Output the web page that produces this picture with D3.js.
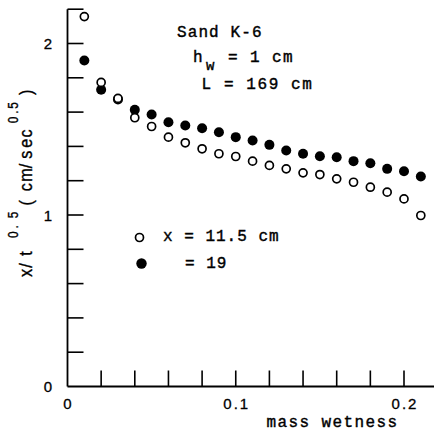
<!DOCTYPE html>
<html>
<head>
<meta charset="utf-8">
<script src="https://cdn.jsdelivr.net/npm/d3@7"></script>
<style>
  html, body { margin: 0; padding: 0; background: #fff; }
  svg { display: block; }
</style>
</head>
<body>
<svg id="chart" width="434" height="434"></svg>
<script>
// ---- data ----
const wetness = [0.01,0.02,0.03,0.04,0.05,0.06,0.07,0.08,0.09,0.10,0.11,0.12,0.13,0.14,0.15,0.16,0.17,0.18,0.19,0.20,0.21];
const x115 = [2.157,1.773,1.68,1.567,1.516,1.454,1.421,1.386,1.357,1.341,1.314,1.289,1.269,1.246,1.236,1.211,1.191,1.162,1.133,1.094,0.997];
const x19  = [1.901,1.730,1.673,1.613,1.586,1.541,1.522,1.506,1.483,1.454,1.434,1.409,1.376,1.357,1.343,1.337,1.314,1.302,1.269,1.255,1.224];
const xTicks = [0.02,0.04,0.06,0.08,0.10,0.12,0.14,0.16,0.18,0.20];
const xTickLabels = [[0,"0"],[0.1,"0.1"],[0.2,"0.2"]];
const yTicks = [0.2,0.4,0.6,0.8,1.0,1.2,1.4,1.6,1.8,2.0,2.2];
const yTickLabels = [[0,"0"],[1,"1"],[2,"2"]];

const svg = d3.select("#chart");
const x = d3.scaleLinear().domain([0, 0.2]).range([67.5, 404]);
const y = d3.scaleLinear().domain([0, 2]).range([386.5, 43.5]);
const xMax = 0.218;
const yMax = 2.2;

const mono = "'Liberation Mono', 'DejaVu Sans Mono', monospace";
const sans = "'Liberation Sans', Arial, sans-serif";

// axes lines
const ax = svg.append("g").attr("stroke", "#000").attr("fill", "none");
ax.append("line").attr("x1", x(0)).attr("x2", x(xMax)).attr("y1", y(0)).attr("y2", y(0)).attr("stroke-width", 1.8);
ax.append("line").attr("x1", x(0)).attr("x2", x(0)).attr("y1", y(0)).attr("y2", y(yMax)).attr("stroke-width", 1.8);

// x ticks (inward, up)
ax.selectAll("line.xt").data(xTicks).join("line").attr("class","xt")
  .attr("x1", d => x(d)).attr("x2", d => x(d))
  .attr("y1", y(0)).attr("y2", y(0) - 16).attr("stroke-width", 1.6);
// y ticks (inward, right)
ax.selectAll("line.yt").data(yTicks).join("line").attr("class","yt")
  .attr("y1", d => y(d)).attr("y2", d => y(d))
  .attr("x1", x(0)).attr("x2", x(0) + 16).attr("stroke-width", 1.6);

// tick labels
svg.selectAll("text.xl").data(xTickLabels).join("text").attr("class","xl")
  .attr("x", d => x(d[0]) + 1).attr("y", 409)
  .attr("text-anchor", "middle").attr("font-family", sans).attr("font-size", 15)
  .attr("letter-spacing", 2).attr("stroke", "#000").attr("stroke-width", 0.3)
  .text(d => d[1]);
svg.selectAll("text.yl").data(yTickLabels).join("text").attr("class","yl")
  .attr("x", 48).attr("y", d => y(d[0]) + 5.5)
  .attr("text-anchor", "middle").attr("font-family", sans).attr("font-size", 15)
  .attr("stroke", "#000").attr("stroke-width", 0.3)
  .text(d => d[1]);

// x axis title
svg.append("text").attr("x", 266.5).attr("y", 426.5)
  .attr("font-family", mono).attr("font-size", 16).attr("letter-spacing", 1.4)
  .attr("stroke", "#000").attr("stroke-width", 0.4)
  .text("mass wetness");

// y axis title (rotated), condensed sans
const yt = svg.append("g").attr("transform", "translate(32,277) rotate(-90) scale(0.85,1)")
  .attr("font-family", sans).attr("fill", "#000").attr("stroke", "#000").attr("stroke-width", 0.35);
const ytPieces = [
  ["x", 0, 0, 19], ["/", 11, 0, 19], ["t", 25, 0, 19],
  ["0", 46, -14.5, 14], [".", 57, -14.5, 14], ["5", 69, -14.5, 14],
  ["(", 84, 0, 19],
  ["c", 101, 0, 19], ["m", 112, 0, 19], ["/", 128, 0, 19], ["s", 139, 0, 19], ["e", 152, 0, 19], ["c", 164, 0, 19],
  ["0", 181, -14.5, 14], [".", 192, -14.5, 14], ["5", 198, -14.5, 14],
  [")", 214, 0, 19]
];
yt.selectAll("text").data(ytPieces).join("text")
  .attr("x", d => d[1]).attr("y", d => d[2]).attr("font-size", d => d[3]).text(d => d[0]);

// points
const pts115 = wetness.map((w, i) => [w, x115[i]]);
const pts19 = wetness.map((w, i) => [w, x19[i]]);
svg.selectAll("circle.f").data(pts19).join("circle").attr("class","f")
  .attr("cx", d => x(d[0])).attr("cy", d => y(d[1])).attr("r", 5).attr("fill", "#000");
svg.selectAll("circle.o").data(pts115).join("circle").attr("class","o")
  .attr("cx", d => x(d[0])).attr("cy", d => y(d[1])).attr("r", 4)
  .attr("fill", "#fff").attr("stroke", "#000").attr("stroke-width", 1.7);

// annotation
const ann = svg.append("g").attr("font-family", mono).attr("font-size", 16).attr("fill", "#000")
  .attr("stroke", "#000").attr("stroke-width", 0.4)
  .style("white-space", "pre");
ann.append("text").attr("x", 177).attr("y", 37).attr("letter-spacing", 1.1).text("Sand K-6");
ann.append("text").attr("x", 193).attr("y", 62).text("h");
ann.append("text").attr("x", 206).attr("y", 70).attr("font-size", 14).text("w");
ann.append("text").attr("x", 228).attr("y", 62).attr("letter-spacing", 1.4).text("= 1 cm");
ann.append("text").attr("x", 201.5).attr("y", 89).attr("letter-spacing", 1.6).text("L = 169 cm");

// legend
svg.append("circle").attr("cx", 139.5).attr("cy", 237.5).attr("r", 4)
  .attr("fill", "#fff").attr("stroke", "#000").attr("stroke-width", 1.7);
svg.append("circle").attr("cx", 141.5).attr("cy", 263.5).attr("r", 5.2).attr("fill", "#000");
ann.append("text").attr("x", 163).attr("y", 241).attr("letter-spacing", 1).text("x = 11.5 cm");
ann.append("text").attr("x", 185).attr("y", 267.5).attr("letter-spacing", 1).text("= 19");
</script>
</body>
</html>
